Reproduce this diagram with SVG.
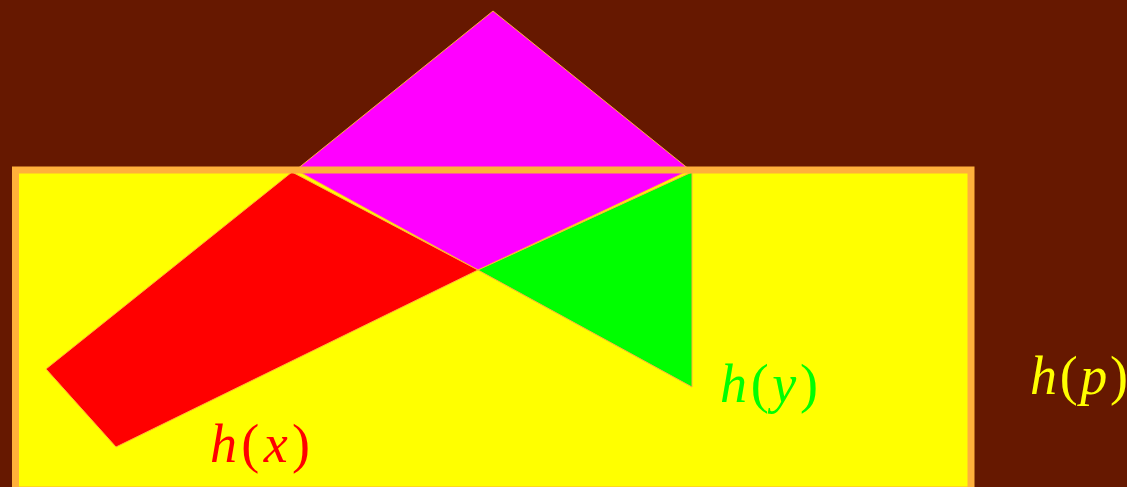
<svg xmlns="http://www.w3.org/2000/svg" width="1127" height="487" viewBox="0 0 1127 487">
<style>
.lbl{font-family:"Liberation Serif","DejaVu Serif",serif;font-size:54px}
.it{font-style:italic}
.shape{stroke:#ffb03b;stroke-width:1;stroke-linejoin:round}
</style>
<rect id="background" x="0" y="0" width="1127" height="487" fill="#661800"/>
<g id="rect-fill"><rect x="15.5" y="170" width="955.5" height="320" fill="#ffff00"/></g>
<g id="magenta"><polygon class="shape" fill="#ff00ff" points="493,11 690,170 478,270 296,170"/></g>
<g id="red"><polygon class="shape" fill="#ff0000" points="292,172 478,270 116,447 46,369"/></g>
<g id="green"><polygon class="shape" fill="#00ff00" points="478,270 692,172 692,387"/></g>
<g id="rect-border"><rect x="15.5" y="170" width="955.5" height="320" fill="none" stroke="#ffb03b" stroke-width="7"/></g>
<g id="label-hx"><text class="lbl" x="210" y="462" fill="#ff0000" textLength="100" lengthAdjust="spacing"><tspan class="it">h</tspan>(<tspan class="it">x</tspan>)</text></g>
<g id="label-hy"><text class="lbl" x="720" y="402" fill="#00ff00" textLength="98" lengthAdjust="spacing"><tspan class="it">h</tspan>(<tspan class="it">y</tspan>)</text></g>
<g id="label-hp"><text class="lbl" x="1030" y="394" fill="#ffff00" textLength="98" lengthAdjust="spacing"><tspan class="it">h</tspan>(<tspan class="it">p</tspan>)</text></g>
</svg>
